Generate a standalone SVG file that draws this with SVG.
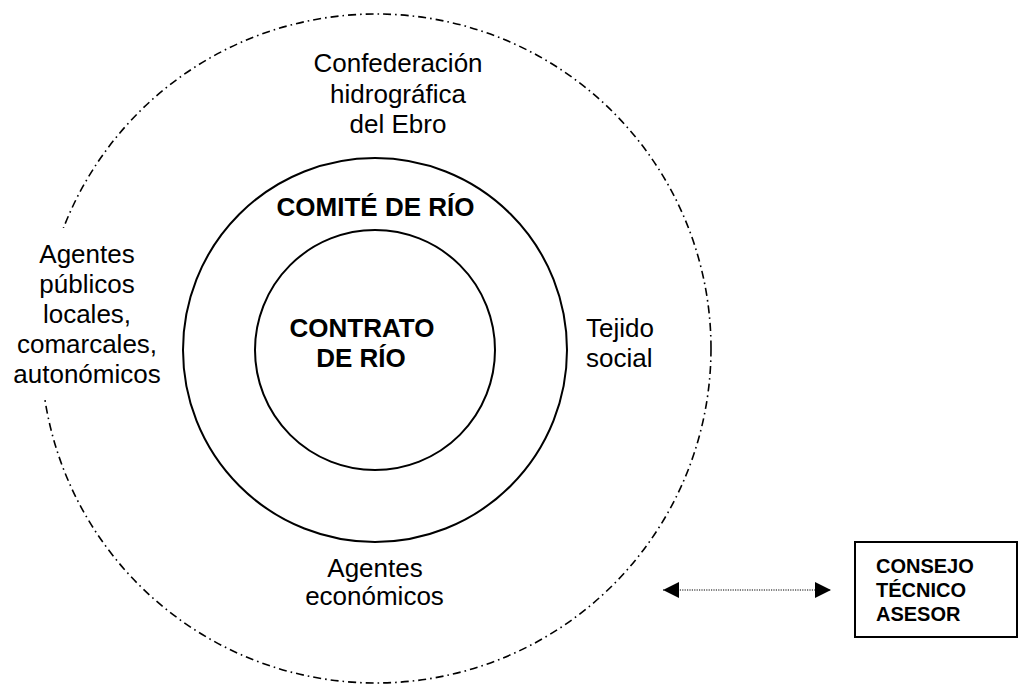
<svg xmlns="http://www.w3.org/2000/svg" width="1020" height="684" viewBox="0 0 1020 684">
  <style>
    .t { font-family: "Liberation Sans", Arial, sans-serif; font-size: 26px; fill: #000; }
    .b { font-weight: bold; }
    .ring { fill: none; stroke: #000; stroke-width: 2; }
    .outer { fill: none; stroke: #000; stroke-width: 1.6; stroke-dasharray: 8 4 1.6 4; }
    .box { fill: #fff; stroke: #000; stroke-width: 2; }
    .small { font-family: "Liberation Sans", Arial, sans-serif; font-size: 20px; font-weight: bold; fill: #000; }
    .link { fill: none; stroke: #000; stroke-width: 1.2; stroke-dasharray: 1.2 1.2; }
  </style>
  <defs>
    <marker id="ah" viewBox="0 0 16 16" refX="16" refY="8" markerWidth="16" markerHeight="16" markerUnits="userSpaceOnUse" orient="auto-start-reverse">
      <path d="M0,0 L16,8 L0,16 Z" fill="#000"/>
    </marker>
  </defs>
  <rect width="1020" height="684" fill="#fff"/>

  <g id="outer-ring">
    <ellipse class="outer" cx="376" cy="348.5" rx="335" ry="334.5"/>
  </g>

  <g id="comite">
    <circle class="ring" cx="375" cy="350" r="192"/>
    <text class="t b" x="375.5" y="216" text-anchor="middle">COMITÉ DE RÍO</text>
  </g>

  <g id="contrato">
    <circle class="ring" cx="375" cy="350" r="120"/>
    <text class="t b" text-anchor="middle"><tspan x="362" y="337">CONTRATO</tspan><tspan x="361" y="367">DE RÍO</tspan></text>
  </g>

  <g id="confederacion">
    <text class="t" text-anchor="middle"><tspan x="398" y="72">Confederación</tspan><tspan x="398" y="102.5">hidrográfica</tspan><tspan x="398" y="133">del Ebro</tspan></text>
  </g>

  <g id="agentes-publicos">
    <rect x="6" y="228" width="162" height="170" fill="#fff"/>
    <text class="t" text-anchor="middle"><tspan x="87" y="263">Agentes</tspan><tspan x="87" y="293">públicos</tspan><tspan x="87" y="323">locales,</tspan><tspan x="87" y="353">comarcales,</tspan><tspan x="87" y="383">autonómicos</tspan></text>
  </g>

  <g id="tejido-social">
    <text class="t"><tspan x="586" y="337">Tejido</tspan><tspan x="586" y="367">social</tspan></text>
  </g>

  <g id="agentes-economicos">
    <text class="t" text-anchor="middle"><tspan x="375" y="577">Agentes</tspan><tspan x="374.5" y="605">económicos</tspan></text>
  </g>

  <g id="consejo">
    <rect class="box" x="855" y="542" width="162" height="95"/>
    <text class="small"><tspan x="876" y="573">CONSEJO</tspan><tspan x="876" y="597">TÉCNICO</tspan><tspan x="876" y="621">ASESOR</tspan></text>
  </g>

  <g id="connectors">
    <line class="link" x1="663" y1="590" x2="831" y2="590" marker-start="url(#ah)" marker-end="url(#ah)"/>
  </g>
</svg>
